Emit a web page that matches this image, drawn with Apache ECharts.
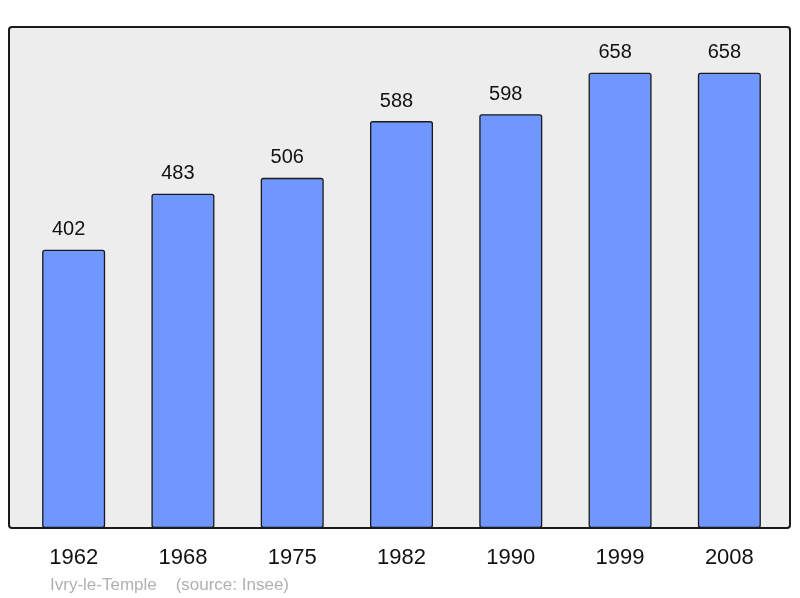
<!DOCTYPE html>
<html>
<head>
<meta charset="utf-8">
<script src="https://cdn.jsdelivr.net/npm/echarts@6/dist/echarts.min.js"></script>
<style>
  html, body { margin: 0; padding: 0; background: #fff; }
  #chart { width: 800px; height: 598px; }
</style>
</head>
<body>
<div id="chart"></div>
<script>
// population by census year
const years = ['1962', '1968', '1975', '1982', '1990', '1999', '2008'];
const population = [402, 483, 506, 588, 598, 658, 658];

const chart = echarts.init(document.getElementById('chart'));

const option = {
  animation: false,
  textStyle: {
    fontFamily: 'Liberation Sans, Arial, sans-serif'
  },
  graphic: [{
    type: 'rect',
    z: -1,
    shape: { x: 9, y: 27, width: 781, height: 501, r: 3 },
    style: { fill: '#ededed', stroke: '#1a1a1a', lineWidth: 2 }
  }, {
    type: 'text',
    left: 50,
    top: 577,
    style: {
      text: 'Ivry-le-Temple    (source: Insee)',
      fill: '#b0b0b0',
      fontSize: 17,
      fontFamily: 'Liberation Sans, Arial, sans-serif'
    }
  }],
  grid: {
    left: 19,
    right: 16,
    top: 27,
    bottom: 70
  },
  xAxis: {
    type: 'category',
    data: years,
    axisLine: { show: false },
    axisTick: { show: false },
    axisLabel: {
      color: '#111',
      fontSize: 22,
      margin: 19
    }
  },
  yAxis: {
    type: 'value',
    min: 0,
    max: 724,
    show: false,
    splitLine: { show: false }
  },
  series: [{
    type: 'bar',
    data: population,
    barWidth: 63,
    itemStyle: {
      color: '#7096ff',
      borderColor: '#1a1a1a',
      borderWidth: 1.3,
      borderRadius: 2
    },
    label: {
      show: true,
      position: 'top',
      distance: 10,
      offset: [-5, 0],
      color: '#111',
      fontSize: 20
    }
  }]
};

chart.setOption(option);
</script>
</body>
</html>
